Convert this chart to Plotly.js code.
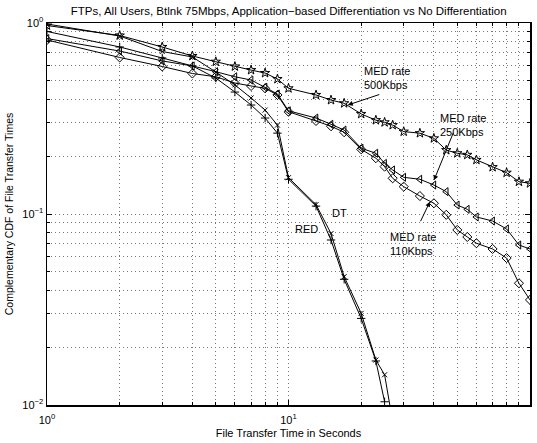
<!DOCTYPE html>
<html>
<head>
<meta charset="utf-8">
<script src="https://cdn.plot.ly/plotly-3.0.1.min.js"></script>
<style>html,body{margin:0;padding:0;background:#fff;}#chart{width:537px;height:443px;}</style>
</head>
<body>
<div id="chart"></div>
<script>
// File transfer times (seconds)
const medTimes = [1,2,3,4,5,6,7,8,9,10,13,15,17,20,23,25,27,30,35,40,45,50,55,60,70,80,90,100];
const med500 = [0.970,0.860,0.749,0.672,0.627,0.592,0.567,0.547,0.509,0.455,0.420,0.395,0.380,0.334,0.310,0.302,0.292,0.270,0.265,0.249,0.216,0.208,0.204,0.192,0.176,0.1645,0.1476,0.1448];
const med250 = [0.829,0.713,0.633,0.596,0.556,0.523,0.503,0.461,0.425,0.347,0.318,0.295,0.275,0.221,0.208,0.184,0.170,0.1556,0.152,0.1418,0.1309,0.1114,0.1058,0.0965,0.0919,0.0835,0.0688,0.0656];
const med110 = [0.815,0.660,0.592,0.544,0.523,0.485,0.468,0.455,0.420,0.343,0.307,0.288,0.268,0.218,0.196,0.177,0.1538,0.139,0.1242,0.1138,0.099,0.0825,0.0758,0.0703,0.0656,0.0588,0.0434,0.0355];
const dtTimes = [1,2,3,4,5,6,7,8,9,10,13,15,17,20,23,25,27];
const dtVals = [0.988,0.855,0.709,0.664,0.554,0.474,0.405,0.350,0.292,0.155,0.112,0.079,0.047,0.0302,0.0172,0.0144,0.0082];
const redTimes = [1,2,3,4,5,6,7,8,9,10,13,15,17,20,23,25];
const redVals = [0.903,0.749,0.656,0.596,0.515,0.435,0.372,0.318,0.265,0.152,0.110,0.0731,0.0455,0.0284,0.0170,0.0104];

const xTickVals = [1,10,100];
const xTickText = ['10<sup>0</sup>','10<sup>1</sup>','10<sup>2</sup>'];
const yTickVals = [0.01,0.1,1];
const yTickText = ['10<sup>−2</sup>','10<sup>−1</sup>','10<sup>0</sup>'];
const xMinor = [2,3,4,5,6,7,8,9,20,30,40,50,60,70,80,90];
const yMinor = [0.02,0.03,0.04,0.05,0.06,0.07,0.08,0.09,0.2,0.3,0.4,0.5,0.6,0.7,0.8,0.9];

const line = {color:'#000', width:1};
function tr(x, y, sym, size){
  return {x:x, y:y, type:'scatter', mode:'lines+markers', line:line,
    marker:{symbol:sym, size:size, color:'#000', line:{color:'#000', width:1}}, showlegend:false, cliponaxis:true};
}
const data = [
  tr(medTimes, med500, 'star-open', 7),
  tr(medTimes, med250, 'triangle-left-open', 7),
  tr(medTimes, med110, 'diamond-open', 7),
  tr(dtTimes, dtVals, 'x-thin-open', 5),
  tr(redTimes, redVals, 'cross-thin-open', 6)
];

const FAM = 'Liberation Sans, Arial, sans-serif';
const fnt = {family:FAM, size:11, color:'#000'};
const gridDash = '1px,3px';
const gridCol = '#777';
const axisCommon = {
  type:'log', showline:true, linecolor:'#000', linewidth:1.5, mirror:'allticks',
  ticks:'inside', ticklen:5, tickcolor:'#000', tickwidth:1,
  showgrid:true, gridcolor:gridCol, gridwidth:1, griddash:gridDash, zeroline:false,
  tickfont:fnt
};
const layout = {
  width:537, height:443,
  margin:{l:47, r:7, t:23, b:38},
  paper_bgcolor:'#fff', plot_bgcolor:'#fff',
  font:fnt,
  title:{text:'FTPs, All Users, Btlnk 75Mbps, Application−based Differentiation vs No Differentiation',
    font:{family:FAM, size:11.5, color:'#000'}, x:0.5375, xanchor:'center', y:0.975, yanchor:'middle'},
  xaxis:Object.assign({}, axisCommon, {
    range:[0,2], tickvals:xTickVals, ticktext:xTickText, ticklabelstandoff:4,
    minor:{tickvals:xMinor, ticks:'inside', ticklen:3, tickcolor:'#000', showgrid:true, gridcolor:gridCol, griddash:gridDash, gridwidth:1},
    title:{text:'File Transfer Time in Seconds', font:{family:FAM, size:11, color:'#000'}, standoff:4}
  }),
  yaxis:Object.assign({}, axisCommon, {
    range:[-2,0], tickvals:yTickVals, ticktext:yTickText,
    minor:{tickvals:yMinor, ticks:'inside', ticklen:3, tickcolor:'#000', showgrid:true, gridcolor:gridCol, griddash:gridDash, gridwidth:1},
    title:{text:'Complementary CDF of File Transfer Times', font:{family:FAM, size:10.5, color:'#000'}, standoff:6}
  }),
  annotations:[
    {xref:'paper', yref:'paper', x:(362-47)/483, y:(405-78)/382, xanchor:'left', yanchor:'middle', align:'left', showarrow:false, text:'MED rate<br>500Kbps', font:fnt},
    {xref:'paper', yref:'paper', x:(438-47)/483, y:(405-125)/382, xanchor:'left', yanchor:'middle', align:'left', showarrow:false, text:'MED rate<br>250Kbps', font:fnt},
    {xref:'paper', yref:'paper', x:(388-47)/483, y:(405-244)/382, xanchor:'left', yanchor:'middle', align:'left', showarrow:false, text:'MED rate<br>110Kbps', font:fnt},
    {xref:'paper', yref:'paper', x:(339-47)/483, y:(405-213)/382, xanchor:'center', yanchor:'middle', showarrow:false, text:'DT', font:fnt},
    {xref:'paper', yref:'paper', x:(306-47)/483, y:(405-229)/382, xanchor:'center', yanchor:'middle', showarrow:false, text:'RED', font:fnt},
    {xref:'x', yref:'y', x:Math.log10(17.6), y:Math.log10(0.372), ax:33, ay:-11, showarrow:true, arrowhead:2, arrowsize:1, arrowwidth:1, arrowcolor:'#000', text:''},
    {xref:'x', yref:'y', x:Math.log10(40), y:Math.log10(0.15), ax:20, ay:-49, showarrow:true, arrowhead:2, arrowsize:1, arrowwidth:1, arrowcolor:'#000', text:''},
    {xref:'x', yref:'y', x:Math.log10(38.5), y:Math.log10(0.116), ax:-10, ay:21, showarrow:true, arrowhead:2, arrowsize:1, arrowwidth:1, arrowcolor:'#000', text:''}
  ]
};
Plotly.newPlot('chart', data, layout, {staticPlot:true, displayModeBar:false});
</script>
</body>
</html>
